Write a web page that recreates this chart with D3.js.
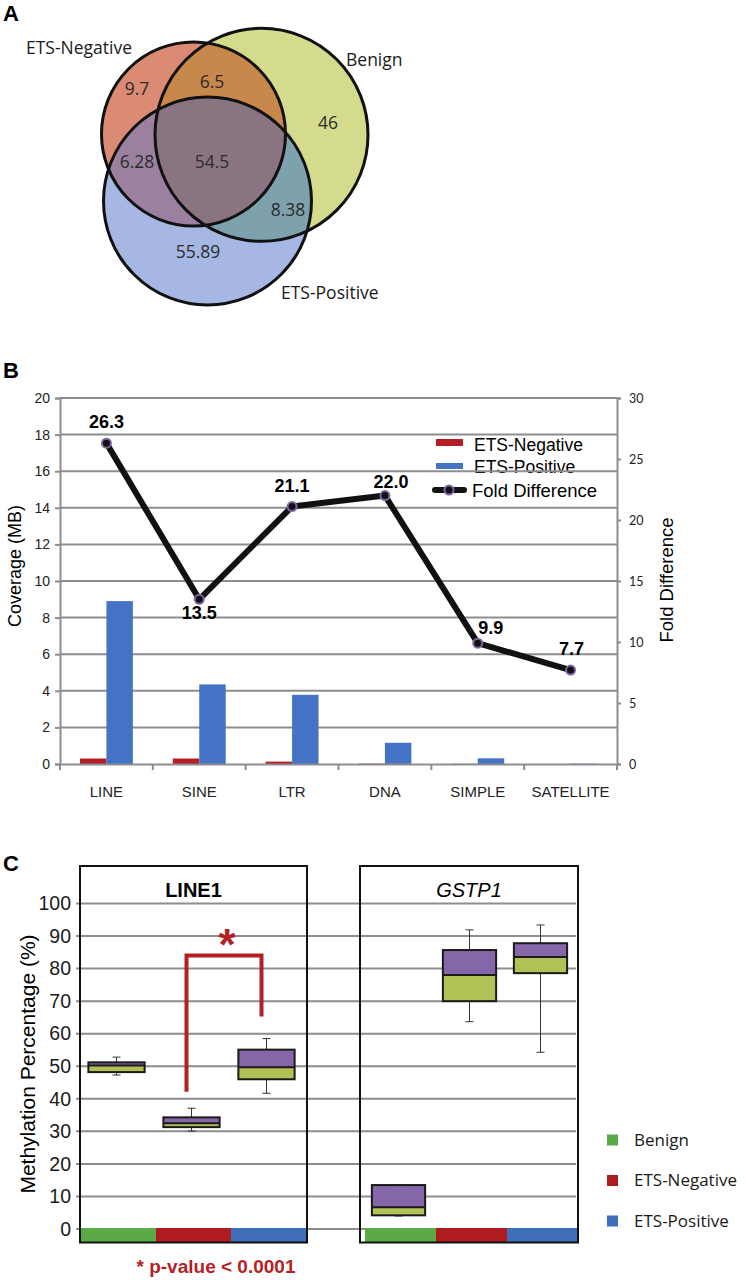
<!DOCTYPE html>
<html>
<head>
<meta charset="utf-8">
<script src="https://cdn.jsdelivr.net/npm/d3@7"></script>
<style>
body { margin: 0; background: #fff; }
text { font-family: "Liberation Sans", Arial, sans-serif; }
</style>
</head>
<body>
<div id="fig"></div>
<script>
// ---- panel A data ----
var vennSets = ["ETS-Negative", "Benign", "ETS-Positive"];
var vennRegions = ["9.7", "6.5", "46", "6.28", "54.5", "8.38", "55.89"];

// ---- panel B data ----
var repeatClasses = ["LINE", "SINE", "LTR", "DNA", "SIMPLE", "SATELLITE"];
var covNegative = [0.3, 0.3, 0.13, 0.02, 0.01, 0.0];
var covPositive = [8.9, 4.35, 3.78, 1.16, 0.31, 0.02];
var foldDiff = [26.3, 13.5, 21.1, 22.0, 9.9, 7.7];
var covTicks = [0, 2, 4, 6, 8, 10, 12, 14, 16, 18, 20];
var foldTicks = [0, 5, 10, 15, 20, 25, 30];

// ---- panel C data ----
var genes = ["LINE1", "GSTP1"];
var groups = ["Benign", "ETS-Negative", "ETS-Positive"];
// [min, q1, median, q3, max]
var line1Stats = [[47.3, 48.2, 50.2, 51.2, 52.8], [30.1, 31.3, 32.5, 34.3, 37.1], [41.7, 46.0, 49.7, 55.1, 58.5]];
var gstp1Stats = [[4.0, 4.2, 6.7, 13.5, 13.5], [63.7, 70.0, 78.0, 85.7, 91.9], [54.3, 78.6, 83.6, 87.8, 93.4]];
var methTicks = [0, 10, 20, 30, 40, 50, 60, 70, 80, 90, 100];
var sigBracket = [84, 42.2, 65.3]; // top, left foot, right foot

var svg = d3.select("#fig").append("svg")
    .attr("width", 746).attr("height", 1280);

var grid = "#8d8d8d";

function panelLetter(t, y) {
  svg.append("text").attr("x", 3).attr("y", y).text(t)
     .style("font-size", "22px").style("font-weight", "bold");
}
panelLetter("A", 21);
panelLetter("B", 378);
panelLetter("C", 871);

/*** Panel A : Venn ***/
var circ = [
  {cx: 193.5, cy: 134, r: 92, fill: "#db8b73"},   // ETS-Negative
  {cx: 261.5, cy: 134.8, r: 106.5, fill: "#d4db8d"}, // Benign
  {cx: 207.5, cy: 201, r: 104, fill: "#a6b7e3"}  // ETS-Positive
];
var defs = svg.append("defs");
circ.forEach(function(c, i) {
  defs.append("clipPath").attr("id", "vc" + i)
      .append("circle").attr("cx", c.cx).attr("cy", c.cy).attr("r", c.r);
});
var venn = svg.append("g");
[2, 1, 0].forEach(function(i) {
  venn.append("circle").attr("cx", circ[i].cx).attr("cy", circ[i].cy)
      .attr("r", circ[i].r).attr("fill", circ[i].fill);
});
function overlap(a, b, col, parent) {
  (parent || venn).append("circle").attr("cx", circ[a].cx).attr("cy", circ[a].cy)
      .attr("r", circ[a].r).attr("clip-path", "url(#vc" + b + ")").attr("fill", col);
}
overlap(0, 1, "#c8884b");
overlap(0, 2, "#9b80a0");
overlap(1, 2, "#7ea1ae");
var tri = venn.append("g").attr("clip-path", "url(#vc2)");
overlap(0, 1, "#8b7482", tri);
circ.forEach(function(c) {
  venn.append("circle").attr("cx", c.cx).attr("cy", c.cy).attr("r", c.r)
      .attr("fill", "none").attr("stroke", "#111").attr("stroke-width", 3);
});
var regionPos = [[137, 89], [212, 82], [328, 123], [137, 162], [212, 162], [288, 210], [198, 252]];
venn.selectAll("text.rv").data(vennRegions).enter().append("text")
    .attr("class", "rv")
    .attr("x", function(d, i) { return regionPos[i][0]; })
    .attr("y", function(d, i) { return regionPos[i][1]; })
    .attr("dy", "0.35em").attr("text-anchor", "middle")
    .style("font-family", "'Open Sans', sans-serif").style("font-size", "17.5px")
    .attr("fill", "#2b2b2b").text(function(d) { return d; });
var setPos = [[26, 48], [346, 60], [281, 293]];
venn.selectAll("text.sv").data(vennSets).enter().append("text")
    .attr("class", "sv")
    .attr("x", function(d, i) { return setPos[i][0]; })
    .attr("y", function(d, i) { return setPos[i][1]; })
    .attr("dy", "0.35em")
    .style("font-family", "'Open Sans', sans-serif").style("font-size", "17.5px")
    .attr("fill", "#1a1a1a").text(function(d) { return d; });

/*** Panel B : coverage bars + fold difference ***/
var bL = 60, bR = 617, bT = 398, bB = 764;
var xB = d3.scaleBand().domain(repeatClasses).range([bL, bR]);
var groupW = xB.bandwidth() * 0.57;
var xSub = d3.scaleBand().domain(["neg", "pos"]).range([0, groupW]);
var yL = d3.scaleLinear().domain([0, 20]).range([bB, bT]);
var yR = d3.scaleLinear().domain([0, 30]).range([bB, bT]);
var gB = svg.append("g");

// legend (drawn under the grid, as in the original)
var leg = gB.append("g");
leg.append("rect").attr("x", 436).attr("y", 439).attr("width", 27).attr("height", 7).attr("fill", "#b31f24");
leg.append("rect").attr("x", 436).attr("y", 463).attr("width", 27).attr("height", 6).attr("fill", "#4472c4");
leg.append("text").attr("x", 474).attr("y", 451).text("ETS-Negative").style("font-size", "17.5px");
leg.append("text").attr("x", 474).attr("y", 473).text("ETS-Positive").style("font-size", "17.5px");
leg.append("line").attr("x1", 435).attr("x2", 464).attr("y1", 490).attr("y2", 490)
   .attr("stroke", "#111").attr("stroke-width", 6).attr("stroke-linecap", "round");
leg.append("circle").attr("cx", 449).attr("cy", 490).attr("r", 4.5)
   .attr("fill", "#111").attr("stroke", "#8064a2").attr("stroke-width", 2);
leg.append("text").attr("x", 472).attr("y", 497).text("Fold Difference").style("font-size", "18.5px");

// grid
gB.selectAll("line.grid").data(covTicks.slice(1)).enter().append("line")
   .attr("x1", bL).attr("x2", bR)
   .attr("y1", function(d) { return yL(d); }).attr("y2", function(d) { return yL(d); })
   .attr("stroke", grid).attr("stroke-width", 2);

// bars
var barData = [];
repeatClasses.forEach(function(c, i) {
  barData.push({c: c, k: "neg", v: covNegative[i]});
  barData.push({c: c, k: "pos", v: covPositive[i]});
});
gB.selectAll("rect.bar").data(barData).enter().append("rect")
   .attr("x", function(d) { return xB(d.c) + (xB.bandwidth() - groupW) / 2 + xSub(d.k); })
   .attr("y", function(d) { return yL(d.v); })
   .attr("width", xSub.bandwidth())
   .attr("height", function(d) { return bB - yL(d.v); })
   .attr("fill", function(d) { return d.k === "neg" ? "#b31f24" : "#4472c4"; });

// axes
var axL = gB.append("g").attr("transform", "translate(" + bL + ",0)")
   .call(d3.axisLeft(yL).tickValues(covTicks).tickSize(5).tickPadding(5));
var axR = gB.append("g").attr("transform", "translate(" + bR + ",0)")
   .call(d3.axisRight(yR).tickValues(foldTicks).tickSize(4).tickPadding(8));
var axX = gB.append("g").attr("transform", "translate(0," + bB + ")")
   .call(d3.axisBottom(xB).tickSize(0).tickPadding(22));
[axL, axR, axX].forEach(function(a) {
  a.selectAll(".domain").attr("stroke", grid).attr("stroke-width", 2);
  a.selectAll(".tick line").attr("stroke", grid).attr("stroke-width", 2);
  a.selectAll("text").attr("fill", "#222");
});
axL.selectAll("text").style("font-size", "14px").style("font-family", "'Liberation Sans', Arial");
axR.selectAll("text").style("font-size", "12.5px").style("font-family", "Lato, sans-serif");
axX.selectAll("text").style("font-size", "15px").style("font-family", "'Liberation Sans', Arial");
gB.selectAll("line.xt").data(repeatClasses.concat(["end"])).enter().append("line")
   .attr("x1", function(d) { return d === "end" ? bR : xB(d); })
   .attr("x2", function(d) { return d === "end" ? bR : xB(d); })
   .attr("y1", bB).attr("y2", bB + 6).attr("stroke", grid).attr("stroke-width", 2);

gB.append("text").attr("transform", "translate(15,566) rotate(-90)")
   .attr("text-anchor", "middle").attr("dy", "0.35em").style("font-size", "18px").text("Coverage (MB)");
gB.append("text").attr("transform", "translate(667,580) rotate(-90)")
   .attr("text-anchor", "middle").attr("dy", "0.35em").style("font-size", "18.5px").text("Fold Difference");

// fold difference line
var foldPts = repeatClasses.map(function(c, i) { return {c: c, v: foldDiff[i]}; });
var labelShift = [[0, -21], [0, 13], [0, -21], [6, -14], [13, -16], [1, -21]];
var foldLine = d3.line()
   .x(function(d) { return xB(d.c) + xB.bandwidth() / 2; })
   .y(function(d) { return yR(d.v); });
gB.append("path").datum(foldPts).attr("d", foldLine)
   .attr("fill", "none").attr("stroke", "#111").attr("stroke-width", 6).attr("stroke-linejoin", "round");
gB.selectAll("circle.pt").data(foldPts).enter().append("circle")
   .attr("cx", function(d) { return xB(d.c) + xB.bandwidth() / 2; })
   .attr("cy", function(d) { return yR(d.v); })
   .attr("r", 4.5).attr("fill", "#111").attr("stroke", "#8064a2").attr("stroke-width", 2);
gB.selectAll("text.fl").data(foldPts).enter().append("text")
   .attr("x", function(d, i) { return xB(d.c) + xB.bandwidth() / 2 + labelShift[i][0]; })
   .attr("y", function(d, i) { return yR(d.v) + labelShift[i][1]; })
   .attr("dy", "0.35em").attr("text-anchor", "middle")
   .style("font-size", "18px").style("font-weight", "bold")
   .text(function(d) { return d.v.toFixed(1); });

/*** Panel C : methylation boxplots ***/
var yC = d3.scaleLinear().domain([0, 100]).range([1229, 903.5]);
var gC = svg.append("g");
var panels = [
  {gene: genes[0], stats: line1Stats, left: 80, right: 307, sL: 81, sR: 306},
  {gene: genes[1], stats: gstp1Stats, left: 360, right: 578, sL: 365, sR: 578}
];
var groupCol = ["#5aaa46", "#ae1c20", "#3f6fba"];

gC.selectAll("line.cg").data(methTicks).enter().append("line")
   .attr("x1", 76).attr("x2", 576)
   .attr("y1", function(d) { return yC(d); }).attr("y2", function(d) { return yC(d); })
   .attr("stroke", grid).attr("stroke-width", 2);
var axC = gC.append("g").attr("transform", "translate(76,0)")
   .call(d3.axisLeft(yC).tickValues(methTicks).tickSize(0).tickPadding(5));
axC.select(".domain").remove();
axC.selectAll("text").attr("fill", "#1a1a1a").style("font-size", "19.5px")
   .style("font-family", "'Liberation Sans Narrow', 'Liberation Sans', Arial");
gC.append("text").attr("transform", "translate(28,1064) rotate(-90)")
   .attr("text-anchor", "middle").attr("dy", "0.35em").style("font-size", "21px")
   .text("Methylation Percentage (%)");

panels.forEach(function(p, pi) {
  var xg = d3.scaleBand().domain(groups).range([p.sL, p.sR]);
  var bw = xg.bandwidth() * 0.75;
  var g = gC.append("g");
  g.selectAll("rect.strip").data(groups).enter().append("rect")
   .attr("x", function(d) { return xg(d); }).attr("y", 1228)
   .attr("width", xg.bandwidth()).attr("height", 14.5)
   .attr("fill", function(d, i) { return groupCol[i]; });
  g.append("rect").attr("x", p.left).attr("y", 866)
   .attr("width", p.right - p.left).attr("height", 1242.5 - 866)
   .attr("fill", "none").attr("stroke", "#111").attr("stroke-width", 2);
  g.append("text").attr("x", (p.left + p.right) / 2).attr("y", 897)
   .attr("text-anchor", "middle").style("font-size", "20px")
   .style("font-weight", pi === 0 ? "bold" : "normal")
   .style("font-style", pi === 0 ? "normal" : "italic").text(p.gene);

  var bx = g.selectAll("g.box").data(p.stats).enter().append("g")
   .attr("transform", function(d, i) { return "translate(" + (xg(groups[i]) + xg.bandwidth() / 2 - 2) + ",0)"; });
  bx.append("line").attr("x1", 0).attr("x2", 0)
   .attr("y1", function(d) { return yC(d[0]); }).attr("y2", function(d) { return yC(d[4]); })
   .attr("stroke", "#333").attr("stroke-width", 1);
  [0, 4].forEach(function(k) {
    bx.append("line").attr("x1", -4).attr("x2", 4)
     .attr("y1", function(d) { return yC(d[k]); }).attr("y2", function(d) { return yC(d[k]); })
     .attr("stroke", "#333").attr("stroke-width", 1);
  });
  bx.append("rect").attr("x", -bw / 2).attr("width", bw)
   .attr("y", function(d) { return yC(d[2]); })
   .attr("height", function(d) { return yC(d[1]) - yC(d[2]); })
   .attr("fill", "#b2c155");
  bx.append("rect").attr("x", -bw / 2).attr("width", bw)
   .attr("y", function(d) { return yC(d[3]); })
   .attr("height", function(d) { return yC(d[2]) - yC(d[3]); })
   .attr("fill", "#8566a8");
  bx.append("rect").attr("x", -bw / 2).attr("width", bw)
   .attr("y", function(d) { return yC(d[3]); })
   .attr("height", function(d) { return yC(d[1]) - yC(d[3]); })
   .attr("fill", "none").attr("stroke", "#1a1a1a").attr("stroke-width", 2);
  bx.append("line").attr("x1", -bw / 2).attr("x2", bw / 2)
   .attr("y1", function(d) { return yC(d[2]); }).attr("y2", function(d) { return yC(d[2]); })
   .attr("stroke", "#1a1a1a").attr("stroke-width", 2);

  if (pi === 0) {
    var xl = xg(groups[1]) + xg.bandwidth() / 2 - 7;
    var xr = xg(groups[2]) + xg.bandwidth() / 2 - 7;
    g.append("path")
     .attr("d", "M" + xl + "," + yC(sigBracket[1]) + "V" + yC(sigBracket[0]) +
                "H" + xr + "V" + yC(sigBracket[2]))
     .attr("fill", "none").attr("stroke", "#b41e24").attr("stroke-width", 4);
    g.append("text").attr("x", (xl + xr) / 2 + 3).attr("y", 960)
     .attr("text-anchor", "middle").attr("fill", "#b41e24")
     .style("font-size", "44px").style("font-weight", "bold").text("*");
  }
});

gC.append("text").attr("x", 216).attr("y", 1273).attr("text-anchor", "middle")
   .attr("fill", "#b41e24").style("font-size", "19px").style("font-weight", "bold")
   .text("* p-value < 0.0001");

var legC = gC.selectAll("g.lc").data(groups).enter().append("g")
   .attr("transform", function(d, i) { return "translate(607," + (1140 + i * 40.5) + ")"; });
legC.append("rect").attr("x", 0).attr("y", -5.5).attr("width", 11).attr("height", 11)
   .attr("fill", function(d, i) { return groupCol[i]; });
legC.append("text").attr("x", 27).attr("dy", "0.35em")
   .style("font-family", "'Open Sans', sans-serif").style("font-size", "17px")
   .attr("fill", "#1a1a1a").text(function(d) { return d; });
</script>
</body>
</html>
